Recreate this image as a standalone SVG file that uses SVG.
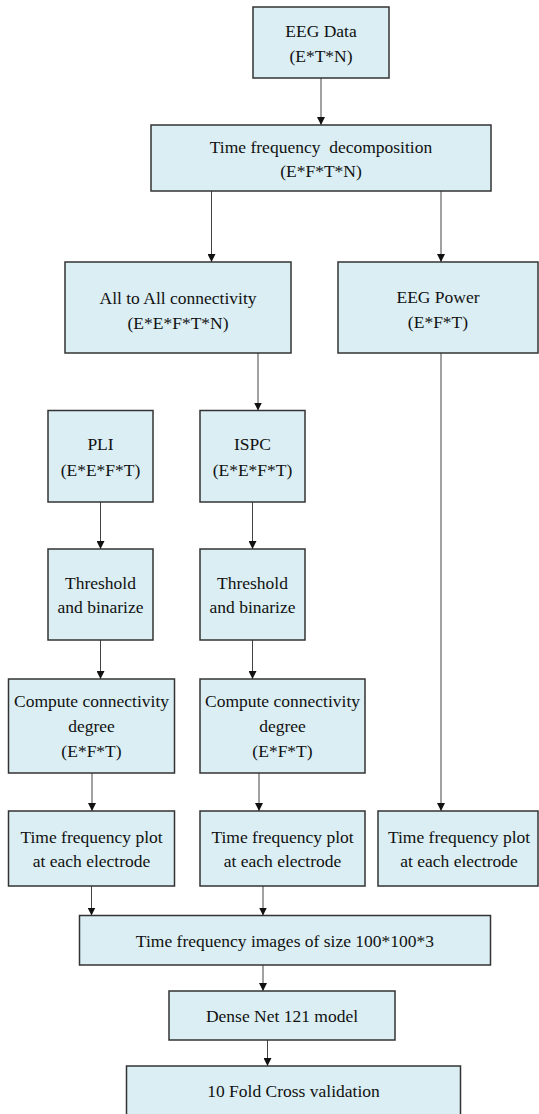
<svg xmlns="http://www.w3.org/2000/svg" width="539" height="1114" viewBox="0 0 539 1114">
<style>
.box{fill:#DAEEF3;stroke:#333;stroke-width:1.5}
.t{font-family:"Liberation Serif","Times New Roman",serif;font-size:17.5px;fill:#111;text-anchor:middle}
.c{stroke:#444;stroke-width:1;fill:none;marker-end:url(#ah)}
</style>
<defs>
<marker id="ah" markerUnits="userSpaceOnUse" markerWidth="8" markerHeight="8" refX="8" refY="4" orient="auto">
<path d="M0,0 L8,4 L0,8 z" fill="#111"/>
</marker>
</defs>
<rect width="539" height="1114" fill="#fff"/>
<g id="connectors">
<line class="c" x1="321" y1="78" x2="321" y2="125"/>
<line class="c" x1="211.5" y1="191" x2="211.5" y2="262"/>
<line class="c" x1="441" y1="191" x2="441" y2="262"/>
<line class="c" x1="258" y1="353" x2="258" y2="410.5"/>
<line class="c" x1="100.5" y1="502" x2="100.5" y2="549"/>
<line class="c" x1="252.5" y1="502" x2="252.5" y2="549"/>
<line class="c" x1="100.5" y1="640" x2="100.5" y2="679"/>
<line class="c" x1="252.5" y1="640" x2="252.5" y2="679"/>
<line class="c" x1="92" y1="773" x2="92" y2="811"/>
<line class="c" x1="259" y1="773" x2="259" y2="811"/>
<line class="c" x1="441" y1="353" x2="441" y2="811"/>
<line class="c" x1="91.5" y1="886" x2="91.5" y2="915.5"/>
<line class="c" x1="263" y1="886" x2="263" y2="915.5"/>
<line class="c" x1="263" y1="965" x2="263" y2="991"/>
<line class="c" x1="267.5" y1="1040" x2="267.5" y2="1066"/>
</g>
<g id="eeg-data">
<rect class="box" x="253" y="7" width="136" height="71"/>
<text class="t" x="321" y="37">EEG Data</text>
<text class="t" x="321" y="62">(E*T*N)</text>
</g>
<g id="decomposition">
<rect class="box" x="151" y="125" width="340" height="66"/>
<text class="t" x="321" y="153" xml:space="preserve">Time frequency  decomposition</text>
<text class="t" x="321" y="177">(E*F*T*N)</text>
</g>
<g id="all-to-all">
<rect class="box" x="65" y="262" width="226" height="91"/>
<text class="t" x="178" y="304">All to All connectivity</text>
<text class="t" x="178" y="329">(E*E*F*T*N)</text>
</g>
<g id="eeg-power">
<rect class="box" x="338" y="262" width="200" height="91"/>
<text class="t" x="438" y="303">EEG Power</text>
<text class="t" x="438" y="328">(E*F*T)</text>
</g>
<g id="pli">
<rect class="box" x="48" y="410.5" width="105" height="91.5"/>
<text class="t" x="100.5" y="450">PLI</text>
<text class="t" x="100.5" y="476">(E*E*F*T)</text>
</g>
<g id="ispc">
<rect class="box" x="200" y="410.5" width="105" height="91.5"/>
<text class="t" x="252.5" y="450">ISPC</text>
<text class="t" x="252.5" y="476">(E*E*F*T)</text>
</g>
<g id="threshold-pli">
<rect class="box" x="48" y="549" width="105" height="91"/>
<text class="t" x="100.5" y="589">Threshold</text>
<text class="t" x="100.5" y="613">and binarize</text>
</g>
<g id="threshold-ispc">
<rect class="box" x="200" y="549" width="105" height="91"/>
<text class="t" x="252.5" y="589">Threshold</text>
<text class="t" x="252.5" y="613">and binarize</text>
</g>
<g id="compute-pli">
<rect class="box" x="8.5" y="679" width="166" height="94"/>
<text class="t" x="91.5" y="707">Compute connectivity</text>
<text class="t" x="91.5" y="732">degree</text>
<text class="t" x="91.5" y="757">(E*F*T)</text>
</g>
<g id="compute-ispc">
<rect class="box" x="200" y="679" width="165" height="94"/>
<text class="t" x="282.5" y="707">Compute connectivity</text>
<text class="t" x="282.5" y="732">degree</text>
<text class="t" x="282.5" y="757">(E*F*T)</text>
</g>
<g id="tf-plot-pli">
<rect class="box" x="8.5" y="811" width="166" height="75"/>
<text class="t" x="91.5" y="843">Time frequency plot</text>
<text class="t" x="91.5" y="867">at each electrode</text>
</g>
<g id="tf-plot-ispc">
<rect class="box" x="200" y="811" width="165" height="75"/>
<text class="t" x="282.5" y="843">Time frequency plot</text>
<text class="t" x="282.5" y="867">at each electrode</text>
</g>
<g id="tf-plot-power">
<rect class="box" x="378" y="811" width="160" height="75"/>
<text class="t" x="459" y="843">Time frequency plot</text>
<text class="t" x="459" y="867">at each electrode</text>
</g>
<g id="tf-images">
<rect class="box" x="79.5" y="915.5" width="411" height="49.5"/>
<text class="t" x="285" y="947">Time frequency images of size 100*100*3</text>
</g>
<g id="densenet">
<rect class="box" x="169" y="991" width="226" height="49"/>
<text class="t" x="282" y="1022">Dense Net 121 model</text>
</g>
<g id="cross-validation">
<rect class="box" x="126.5" y="1066" width="334" height="60"/>
<text class="t" x="293.5" y="1097">10 Fold Cross validation</text>
</g>
</svg>
